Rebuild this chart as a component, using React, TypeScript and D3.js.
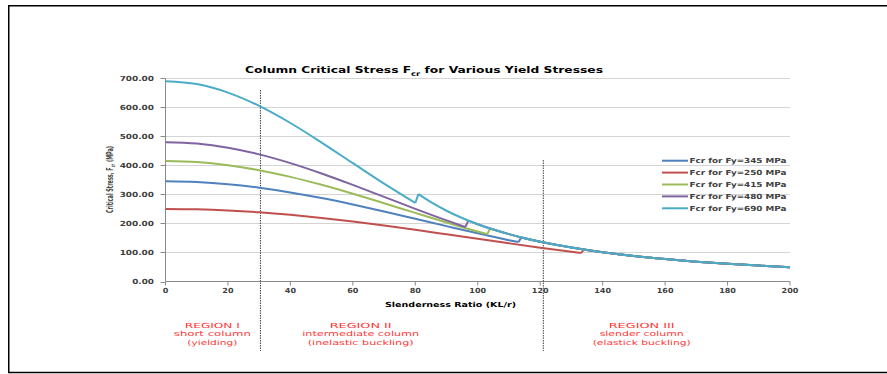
import { useEffect, useRef } from "react"
import { format, line, curveMonotoneX, curveLinear, scaleLinear, select } from "d3"

// slenderness ratio KL/r and critical stress (MPa), inelastic range per Fy
const fyLabels = ["Fcr for Fy=345 MPa", "Fcr for Fy=250 MPa", "Fcr for Fy=415 MPa", "Fcr for Fy=480 MPa", "Fcr for Fy=690 MPa"]

const kl345 = [0, 10, 20, 30, 40, 50, 60, 70, 80, 90, 100, 110, 113]
const fcr345 = [345, 342.5, 335.1, 323.0, 306.9, 287.3, 265.1, 241.1, 216.0, 190.8, 166.0, 142.4, 135.6]
const kl250 = [0, 10, 20, 30, 40, 50, 60, 70, 80, 90, 100, 110, 120, 130, 133]
const fcr250 = [250, 248.7, 244.8, 238.4, 229.7, 219.0, 206.6, 192.8, 178.1, 162.7, 147.1, 131.6, 116.5, 102.1, 97.9]
const kl415 = [0, 10, 20, 30, 40, 50, 60, 70, 80, 90, 100, 103]
const fcr415 = [415, 411.4, 400.6, 383.4, 360.5, 333.0, 302.3, 269.6, 236.3, 203.5, 172.1, 163.2]
const kl480 = [0, 10, 20, 30, 40, 50, 60, 70, 80, 90, 96]
const fcr480 = [480, 475.1, 460.9, 438.0, 407.9, 372.2, 332.7, 291.5, 250.2, 210.5, 187.9]
const kl690 = [0, 10, 20, 30, 40, 50, 60, 70, 80]
const fcr690 = [690, 680.0, 650.8, 604.9, 546.0, 478.6, 407.5, 336.9, 270.5]

// first point after the jump to the elastic curve
const jumpKL = [114, 134, 104, 97, 81]
const jumpFcr = [151.9, 109.9, 182.5, 209.8, 300.9]

// shared elastic (Euler) tail
const elasticKL = [85, 90, 95, 100, 105, 110, 115, 120, 125, 130, 140, 150, 160, 170, 180, 190, 200]
const elasticFcr = [273.2, 243.7, 218.7, 197.4, 179.0, 163.1, 149.3, 137.1, 126.3, 116.8, 100.7, 87.7, 77.1, 68.3, 60.9, 54.7, 49.3]

const xTicks = [0, 20, 40, 60, 80, 100, 120, 140, 160, 180, 200]
const yTicks = [0, 100, 200, 300, 400, 500, 600, 700]

const regionBounds = [30.4, 121]
const regionLabels = [
    ["REGION I", "short column", "(yielding)"],
    ["REGION II", "intermediate column", "(inelastic buckling)"],
    ["REGION III", "slender column", "(elastick buckling)"],
]
const regionCenters = [15, 62.5, 152.5]
// rendered widths of the annotation lines
const regionWidths = [[55, 77, 50], [62, 117, 106], [66, 84, 98]]

const colors = ["#4f81bd", "#c0504d", "#9bbb59", "#8064a2", "#4bacc6"]
const inelasticKL = [kl345, kl250, kl415, kl480, kl690]
const inelasticFcr = [fcr345, fcr250, fcr415, fcr480, fcr690]

const FONT = "'DejaVu Sans', Verdana, sans-serif"

const App = () => {
    const ref = useRef<SVGSVGElement>(null)

    useEffect(() => {
        const svg = select(ref.current)
        svg.selectAll("*").remove()

        const x = scaleLinear().domain([0, 200]).range([165.5, 790])
        const y = scaleLinear().domain([0, 700]).range([281.5, 78.3])
        const fmt = format(".2f")
        const textWidth = (s: string, digit: number) =>
            s.split("").reduce((w, c) => w + (c === "." ? digit * 0.45 : digit), 0)

        // frame
        svg.append("path")
            .attr("d", "M887,5.75 H8.75 V372.5 H887")
            .attr("fill", "none")
            .attr("stroke", "#000")
            .attr("stroke-width", 1.5)

        // gridlines
        svg.selectAll(".grid")
            .data(yTicks.filter(d => d > 0))
            .join("line")
            .attr("class", "grid")
            .attr("x1", x(0)).attr("x2", x(200))
            .attr("y1", d => Math.round(y(d)) + 0.5).attr("y2", d => Math.round(y(d)) + 0.5)
            .attr("stroke", "#d4d4d4")

        // axes
        svg.append("line")
            .attr("x1", x(0)).attr("x2", x(0))
            .attr("y1", y(700)).attr("y2", y(0))
            .attr("stroke", "#8a8a8a")
        svg.append("line")
            .attr("x1", x(0)).attr("x2", x(200))
            .attr("y1", y(0)).attr("y2", y(0))
            .attr("stroke", "#8a8a8a")

        svg.selectAll(".ytick")
            .data(yTicks)
            .join("line")
            .attr("class", "ytick")
            .attr("x1", x(0) - 5).attr("x2", x(0))
            .attr("y1", d => Math.round(y(d)) + 0.5).attr("y2", d => Math.round(y(d)) + 0.5)
            .attr("stroke", "#8a8a8a")
        svg.selectAll(".ylabel")
            .data(yTicks)
            .join("text")
            .attr("class", "ylabel")
            .attr("x", 154)
            .attr("y", d => y(d) + 2.6)
            .attr("text-anchor", "end")
            .attr("font-family", FONT)
            .attr("font-weight", "bold")
            .attr("font-size", 7)
            .attr("fill", "#404040")
            .attr("textLength", d => textWidth(fmt(d), 6.3))
            .attr("lengthAdjust", "spacingAndGlyphs")
            .text(d => fmt(d))

        svg.selectAll(".xtick")
            .data(xTicks)
            .join("line")
            .attr("class", "xtick")
            .attr("x1", d => x(d)).attr("x2", d => x(d))
            .attr("y1", y(0)).attr("y2", y(0) + 4)
            .attr("stroke", "#8a8a8a")
        svg.selectAll(".xlabel")
            .data(xTicks)
            .join("text")
            .attr("class", "xlabel")
            .attr("x", d => x(d))
            .attr("y", 292.5)
            .attr("text-anchor", "middle")
            .attr("font-family", FONT)
            .attr("font-weight", "bold")
            .attr("font-size", 7)
            .attr("fill", "#404040")
            .attr("textLength", d => textWidth(String(d), 5.6))
            .attr("lengthAdjust", "spacingAndGlyphs")
            .text(d => d)

        // title
        const title = svg.append("text")
            .attr("x", 245).attr("y", 73)
            .attr("font-family", FONT)
            .attr("font-weight", "bold")
            .attr("font-size", 9.5)
            .attr("fill", "#000")
            .attr("textLength", 358)
            .attr("lengthAdjust", "spacingAndGlyphs")
        title.append("tspan").text("Column Critical Stress F")
        title.append("tspan").attr("font-size", 6.5).attr("dy", 2.5).text("cr")
        title.append("tspan").attr("dy", -2.5).text(" for Various Yield Stresses")

        // axis titles
        const yTitle = svg.append("text")
            .attr("transform", "translate(113,213) rotate(-90)")
            .attr("font-family", "'Liberation Sans Narrow', 'DejaVu Sans Condensed', sans-serif")
            .attr("font-weight", "bold")
            .attr("font-size", 9)
            .attr("fill", "#404040")
            .attr("textLength", 67)
            .attr("lengthAdjust", "spacingAndGlyphs")
        yTitle.append("tspan").text("Critical Stress, F")
        yTitle.append("tspan").attr("font-size", 6).attr("dy", 2).text("cr")
        yTitle.append("tspan").attr("dy", -2).text(" (MPa)")

        svg.append("text")
            .attr("x", 385).attr("y", 306.5)
            .attr("font-family", FONT)
            .attr("font-weight", "bold")
            .attr("font-size", 7)
            .attr("fill", "#000")
            .attr("textLength", 131)
            .attr("lengthAdjust", "spacingAndGlyphs")
            .text("Slenderness Ratio (KL/r)")

        // region separators
        svg.selectAll(".sep")
            .data(regionBounds)
            .join("line")
            .attr("class", "sep")
            .attr("x1", d => x(d)).attr("x2", d => x(d))
            .attr("y1", (_, i) => i === 0 ? 90 : 160).attr("y2", 351)
            .attr("stroke", "#444")
            .attr("stroke-dasharray", "1.5,1")

        // series
        const smooth = line<[number, number]>().x(d => x(d[0])).y(d => y(d[1])).curve(curveMonotoneX)
        const straight = line<[number, number]>().x(d => x(d[0])).y(d => y(d[1])).curve(curveLinear)
        inelasticKL.forEach((kls, s) => {
            const inel: [number, number][] = kls.map((k, i) => [k, inelasticFcr[s][i]])
            const jump: [number, number] = [jumpKL[s], jumpFcr[s]]
            const tail: [number, number][] = [jump, ...elasticKL.map((k, i) => [k, elasticFcr[i]] as [number, number]).filter(d => d[0] > jump[0])]
            const g = svg.append("g")
                .attr("fill", "none")
                .attr("stroke", colors[s])
                .attr("stroke-width", 2)
                .attr("stroke-linejoin", "round")
            g.append("path").attr("d", smooth(inel))
            g.append("path").attr("d", straight([inel[inel.length - 1], jump]))
            g.append("path").attr("d", smooth(tail))
        })

        // legend
        const legend = svg.append("g")
        fyLabels.forEach((label, i) => {
            const ly = 160.7 + i * 11.9
            legend.append("line")
                .attr("x1", 662).attr("x2", 688)
                .attr("y1", ly).attr("y2", ly)
                .attr("stroke", colors[i])
                .attr("stroke-width", 2)
            legend.append("text")
                .attr("x", 689.5).attr("y", ly + 2.6)
                .attr("font-family", FONT)
                .attr("font-weight", "bold")
                .attr("font-size", 7)
                .attr("fill", "#404040")
                .attr("textLength", 97)
                .attr("lengthAdjust", "spacingAndGlyphs")
                .text(label)
        })

        // region annotations
        regionLabels.forEach((lines, r) => {
            lines.forEach((t, j) => {
                svg.append("text")
                    .attr("x", x(regionCenters[r]))
                    .attr("y", 327.5 + j * 8.7)
                    .attr("text-anchor", "middle")
                    .attr("font-family", FONT)
                    .attr("font-size", 7)
                    .attr("fill", "#ff3636")
                    .attr("textLength", regionWidths[r][j])
                    .attr("lengthAdjust", "spacingAndGlyphs")
                    .text(t)
            })
        })
    }, [])

    return (
        <svg ref={ref} width={887} height={374}
            style={{ position: "absolute", left: 0, top: 0, background: "#fff" }} />
    )
}

export default App
